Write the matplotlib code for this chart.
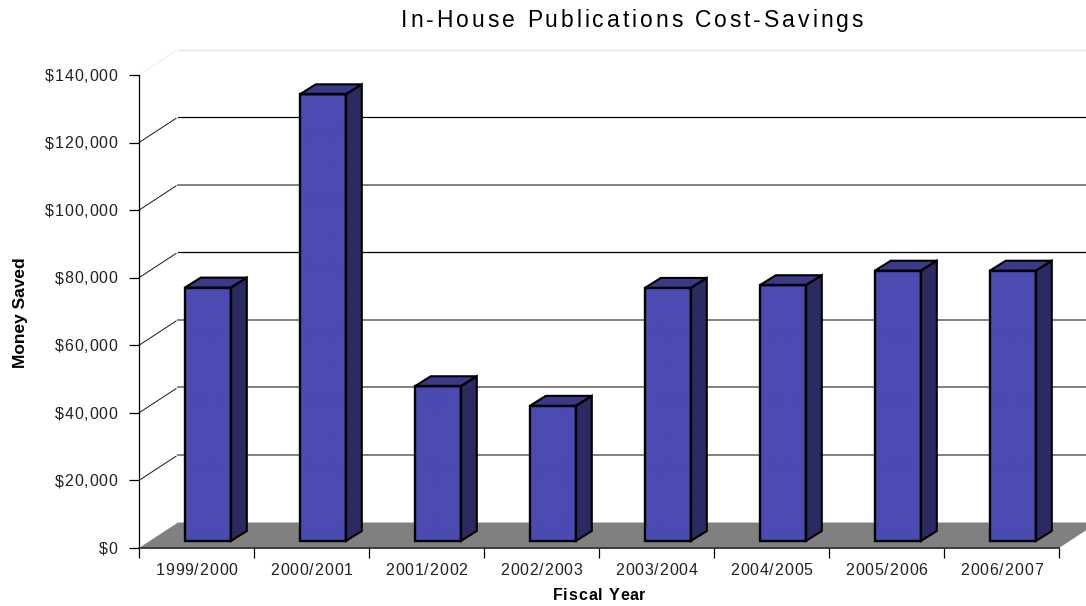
import matplotlib
matplotlib.use("Agg")
import numpy as np
import matplotlib.pyplot as plt
from matplotlib.patches import Polygon
from matplotlib.text import Text
from matplotlib.transforms import IdentityTransform

years = ["1999/2000", "2000/2001", "2001/2002", "2002/2003",
         "2003/2004", "2004/2005", "2005/2006", "2006/2007"]
saved = [75000, 132200, 45800, 40000, 74900, 75700, 80000, 80000]
yticks = [0, 20000, 40000, 60000, 80000, 100000, 120000, 140000]
ylabels = ["$0", "$20,000", "$40,000", "$60,000", "$80,000",
           "$100,000", "$120,000", "$140,000"]

plt.rcParams["font.family"] = ["Liberation Sans", "DejaVu Sans"]
plt.rcParams["text.parse_math"] = False
plt.rcParams["hatch.linewidth"] = 0.4


class SpacedText(Text):
    # same text object, but drawn with letter spacing (matplotlib has no option for it)
    spacing = 0.85

    def draw(self, renderer):
        s = self.get_text()
        if not s or not self.get_visible():
            return
        fp = self.get_fontproperties()
        width = lambda t: renderer.get_text_width_height_descent(t, fp, False)[0] if t else 0
        w, h, d = renderer.get_text_width_height_descent(s, fp, False)
        total = w + self.spacing * (len(s) - 1)
        ha = self.get_ha()
        va = self.get_va()
        ox = {"left": 0, "center": -total / 2, "right": -total}[ha]
        oy = {"top": -h + d, "center": -h / 2 + d - 0.7, "center_baseline": -h / 2 + d - 0.7}.get(va, 0)
        ang = np.radians(self.get_rotation())
        ux = np.array([np.cos(ang), np.sin(ang)])
        uy = np.array([-np.sin(ang), np.cos(ang)])
        pos = self.get_transform().transform(self.get_unitless_position())
        for i, ch in enumerate(s):
            p = pos + ux * (ox + width(s[:i]) + i * self.spacing) + uy * oy
            t = Text(p[0], p[1], ch, fontproperties=fp, color=self.get_color(),
                     rotation=self.get_rotation(), rotation_mode="anchor",
                     ha="left", va="baseline", transform=IdentityTransform())
            t.set_figure(self.get_figure())
            t.draw(renderer)


W, H = 1086, 606
fig = plt.figure(figsize=(W / 100, H / 100), dpi=100)
ax = fig.add_axes([139 / W, 58 / H, 920 / W, 473 / H])
ax.set_xlim(0, 8)
ax.set_ylim(0, 140000)

# depth of the fake 3d box, in data units
px_x = 8 / 920
px_y = 140000 / 473
dep_x = 39 * px_x
dep_y = 25.5 * px_y

# floor
ax.add_patch(Polygon([(0, 0), (dep_x, dep_y), (8 + dep_x, dep_y), (8, 0)],
                     fc="#808080", ec="none", clip_on=False, zorder=1))

# gridlines on the wall, the gray ones are thicker like in the original
grid_gray = [20000, 40000, 60000, 100000]
for v in yticks[1:]:
    if v == 140000:
        ax.plot([0, dep_x * 0.95], [v, v + dep_y * 0.95], color="#e2e2e2", lw=1, ls=(0, (1, 1)),
                clip_on=False, zorder=2)
        ax.plot([dep_x, 8 + dep_x], [v + dep_y, v + dep_y], color="#e6e6e6", lw=1,
                clip_on=False, zorder=2)
        continue
    ax.plot([0, dep_x * 0.95], [v, v + dep_y * 0.95], color="#222222", lw=0.75,
            clip_on=False, zorder=2)
    if v in grid_gray:
        ax.plot([dep_x, 8 + dep_x], [v + dep_y, v + dep_y], color="#777777", lw=1.3,
                clip_on=False, zorder=2)
    else:
        ax.plot([dep_x, 8 + dep_x], [v + dep_y, v + dep_y], color="black", lw=0.9,
                clip_on=False, zorder=2)

# bars
bw = 46 * px_x
off_x = 11.3 * px_x
off_y = 7 * px_y
bd_x = 16 * px_x
bd_y = 10 * px_y
for i in range(len(saved)):
    x0 = i + 0.5 - bw / 2 + off_x
    x1 = x0 + bw
    y0 = off_y
    y1 = saved[i] + off_y
    side = [(x1, y0), (x1 + bd_x, y0 + bd_y), (x1 + bd_x, y1 + bd_y), (x1, y1)]
    top = [(x0, y1), (x0 + bd_x, y1 + bd_y), (x1 + bd_x, y1 + bd_y), (x1, y1)]
    front = [(x0, y0), (x1, y0), (x1, y1), (x0, y1)]
    ax.add_patch(Polygon(side, fc="#2b2b62", ec="none", clip_on=False, zorder=3))
    ax.add_patch(Polygon(top, fc="#3a3a88", ec="none", clip_on=False, zorder=3))
    ax.add_patch(Polygon(front, fc="#4a4ab0", ec="none", clip_on=False, zorder=3))
    # dot texture
    ax.add_patch(Polygon(front, fc="none", ec="#4f4fb5", lw=0, hatch="......",
                         clip_on=False, zorder=3.5))
    ax.add_patch(Polygon(side, fc="none", ec="black", lw=1.5, clip_on=False, zorder=4))
    ax.add_patch(Polygon(top, fc="none", ec="black", lw=1.5, clip_on=False, zorder=4))
    ax.add_patch(Polygon(front, fc="none", ec="black", lw=1.7, clip_on=False, zorder=4))

ax.spines["top"].set_visible(False)
ax.spines["right"].set_visible(False)
ax.spines["left"].set_zorder(5)
ax.spines["left"].set_linewidth(0.9)
ax.spines["bottom"].set_zorder(5)
ax.spines["bottom"].set_linewidth(1.3)
ax.spines["bottom"].set_color("#333333")
ax.patch.set_visible(False)

ax.set_yticks(yticks)
ax.set_yticklabels(ylabels, fontsize=11.5, color="#222222")
ax.set_xticks(range(9))
ax.set_xticklabels([""] * 9)
ax.set_xticks([i + 0.5 for i in range(8)], minor=True)
ax.set_xticklabels(years, minor=True, fontsize=11.5, color="#222222")
ax.tick_params(axis="x", which="major", length=7, width=0.9)
ax.tick_params(axis="x", which="minor", length=0, pad=10.5)
ax.tick_params(axis="y", length=7, width=0.9, pad=8.5)
for v, tick in zip(yticks, ax.yaxis.get_major_ticks()):
    if v in [120000, 80000, 40000, 0]:
        tick.tick1line.set_color("#666666")

for lab in ax.get_yticklabels() + ax.get_xticklabels(minor=True):
    lab.__class__ = SpacedText

title = SpacedText(632 / W, 1 - 20 / H, "In-House Publications Cost-Savings", ha="center", va="center",
                   fontsize=16.5, transform=fig.transFigure, color="black")
title.spacing = 2.94
fig.add_artist(title)
xlab = SpacedText(599 / W, 1 - 593 / H, "Fiscal Year", ha="center", va="center",
                  fontsize=11.5, fontweight="bold", transform=fig.transFigure)
xlab.spacing = 0.9
fig.add_artist(xlab)
fig.text(21 / W, 1 - 313 / H, "Money Saved", ha="center", va="center", rotation=90,
         fontsize=12.5, fontweight="bold")

fig.savefig("out.png", dpi=100)
